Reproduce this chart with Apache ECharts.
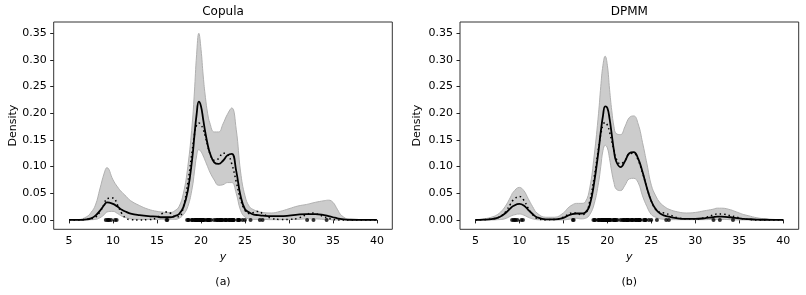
<!DOCTYPE html>
<html>
<head>
<meta charset="utf-8">
<script src="https://cdn.jsdelivr.net/npm/echarts@6/dist/echarts.min.js"></script>
<style>html,body{margin:0;padding:0;background:#fff}#c{width:806px;height:295px}</style>
</head>
<body>
<div id="c"></div>
<script>
const X = [5, 6, 7, 7.5, 8, 8.5, 9, 9.3, 10, 10.5, 11, 11.5, 12, 13, 14, 15, 15.5, 16, 16.5, 17,
  17.5, 18, 18.5, 19, 19.25, 19.5, 19.75, 20, 20.25, 20.5, 20.75, 21, 21.5, 22, 22.5, 23, 23.5, 24, 24.5, 25,
  25.5, 26, 26.5, 27, 28, 29, 30, 31, 32, 32.5, 33, 34, 34.5, 35, 35.5, 36, 37, 38, 40];

const copulaMean = [0, 0, 0.001, 0.003, 0.008, 0.017, 0.028, 0.033, 0.030, 0.025,
  0.019, 0.015, 0.012, 0.009, 0.007, 0.006, 0.005, 0.005, 0.005, 0.007,
  0.011, 0.024, 0.055, 0.115, 0.158, 0.198, 0.222, 0.213, 0.188, 0.163,
  0.142, 0.126, 0.108, 0.105, 0.111, 0.121, 0.124, 0.092, 0.045, 0.02,
  0.014, 0.01, 0.009, 0.008, 0.007, 0.007, 0.008, 0.01, 0.011, 0.011,
  0.011, 0.009, 0.007, 0.005, 0.003, 0.0015, 0.0003, 0, 0];
const copulaTrue = [0, 0, 0.001, 0.002, 0.005, 0.015, 0.03, 0.04, 0.041, 0.028,
  0.012, 0.003, 0.0005, 0, 0.0005, 0.004, 0.011, 0.015, 0.013, 0.006,
  0.006, 0.025, 0.07, 0.13, 0.16, 0.178, 0.182, 0.178, 0.17, 0.155,
  0.14, 0.125, 0.112, 0.115, 0.125, 0.123, 0.105, 0.072, 0.038, 0.018,
  0.012, 0.014, 0.016, 0.012, 0.003, 0.001, 0.001, 0.003, 0.01, 0.013,
  0.012, 0.006, 0.003, 0.001, 0, 0, 0, 0, 0];
const copulaUpper = [0, 0.0005, 0.006, 0.014, 0.028, 0.058, 0.088, 0.098, 0.075, 0.062,
  0.052, 0.044, 0.036, 0.027, 0.02, 0.016, 0.015, 0.014, 0.014, 0.017,
  0.025, 0.05, 0.1, 0.18, 0.24, 0.31, 0.35, 0.32, 0.27, 0.23,
  0.2, 0.182, 0.165, 0.165, 0.18, 0.198, 0.21, 0.17, 0.09, 0.045,
  0.025, 0.019, 0.016, 0.014, 0.013, 0.016, 0.021, 0.026, 0.029, 0.031,
  0.033, 0.036, 0.037, 0.033, 0.02, 0.008, 0.0005, 0, 0];
const copulaLower = [0, 0, 0, 0.0005, 0.001, 0.004, 0.01, 0.015, 0.016, 0.012,
  0.007, 0.004, 0.002, 0.001, 0.001, 0.001, 0.001, 0.001, 0.001, 0.001,
  0.003, 0.01, 0.025, 0.06, 0.09, 0.12, 0.132, 0.128, 0.12, 0.11,
  0.1, 0.09, 0.075, 0.065, 0.066, 0.07, 0.07, 0.05, 0.018, 0.005,
  0.002, 0.001, 0.001, 0.001, 0.0005, 0.0005, 0.001, 0.001, 0.002, 0.002,
  0.002, 0.001, 0.001, 0, 0, 0, 0, 0, 0];

const dpmmMean = [0, 0.0005, 0.002, 0.004, 0.008, 0.014, 0.022, 0.026, 0.030, 0.027,
  0.019, 0.011, 0.005, 0.001, 0.001, 0.004, 0.008, 0.011, 0.012, 0.012,
  0.014, 0.028, 0.07, 0.13, 0.165, 0.195, 0.213, 0.21, 0.19, 0.16,
  0.13, 0.11, 0.099, 0.11, 0.125, 0.127, 0.115, 0.09, 0.06, 0.035,
  0.02, 0.012, 0.008, 0.006, 0.003, 0.002, 0.002, 0.003, 0.005, 0.006,
  0.006, 0.005, 0.004, 0.003, 0.002, 0.0015, 0.0007, 0.0003, 0];
const dpmmTrue = [0, 0.0005, 0.002, 0.004, 0.008, 0.017, 0.03, 0.037, 0.044, 0.037,
  0.022, 0.01, 0.003, 0.0005, 0.001, 0.005, 0.01, 0.013, 0.013, 0.01,
  0.012, 0.035, 0.08, 0.135, 0.16, 0.178, 0.183, 0.178, 0.165, 0.148,
  0.13, 0.115, 0.105, 0.112, 0.124, 0.125, 0.112, 0.088, 0.06, 0.035,
  0.02, 0.014, 0.013, 0.01, 0.004, 0.002, 0.002, 0.004, 0.009, 0.011,
  0.011, 0.008, 0.006, 0.004, 0.002, 0.001, 0, 0, 0];
const dpmmUpper = [0.0005, 0.002, 0.006, 0.01, 0.017, 0.028, 0.043, 0.052, 0.061, 0.055,
  0.04, 0.025, 0.013, 0.005, 0.005, 0.013, 0.022, 0.028, 0.031, 0.031,
  0.034, 0.06, 0.12, 0.2, 0.25, 0.29, 0.307, 0.29, 0.245, 0.205,
  0.175, 0.162, 0.16, 0.175, 0.192, 0.195, 0.18, 0.145, 0.105, 0.065,
  0.045, 0.032, 0.025, 0.02, 0.015, 0.013, 0.014, 0.017, 0.02, 0.022,
  0.022, 0.019, 0.016, 0.013, 0.01, 0.008, 0.004, 0.002, 0];
const dpmmLower = [0, 0, 0, 0.0005, 0.001, 0.003, 0.007, 0.009, 0.011, 0.009,
  0.005, 0.002, 0.0005, 0, 0, 0, 0.001, 0.002, 0.003, 0.002,
  0.003, 0.01, 0.03, 0.07, 0.1, 0.13, 0.14, 0.135, 0.115, 0.09,
  0.07, 0.058, 0.055, 0.065, 0.077, 0.078, 0.07, 0.045, 0.025, 0.01,
  0.005, 0.002, 0.001, 0.0005, 0.0005, 0.0005, 0.0005, 0.0005, 0.001, 0.001,
  0.001, 0.0005, 0, 0, 0, 0, 0, 0, 0];

const observations = [9.172, 9.350, 9.483, 9.558, 9.775, 10.227, 10.406, 16.084, 16.170, 18.419,
  18.552, 18.600, 18.927, 19.052, 19.070, 19.330, 19.343, 19.349, 19.440, 19.473,
  19.529, 19.541, 19.547, 19.663, 19.846, 19.856, 19.863, 19.914, 19.918, 19.973,
  19.989, 20.166, 20.175, 20.179, 20.196, 20.215, 20.221, 20.415, 20.629, 20.795,
  20.821, 20.846, 20.875, 20.986, 21.137, 21.492, 21.701, 21.814, 21.921, 21.960,
  22.185, 22.209, 22.242, 22.249, 22.314, 22.374, 22.495, 22.746, 22.747, 22.888,
  22.914, 23.206, 23.241, 23.263, 23.484, 23.538, 23.542, 23.666, 23.706, 23.711,
  24.129, 24.285, 24.289, 24.366, 24.717, 24.990, 25.633, 26.690, 26.995, 32.065,
  32.789, 34.279];

const xTicks = [5, 10, 15, 20, 25, 30, 35, 40];
const yTicks = [0, 0.05, 0.10, 0.15, 0.20, 0.25, 0.30, 0.35];
const panelTitles = ['Copula', 'DPMM'];
const panelLetters = ['(a)', '(b)'];

const FONT = 'DejaVu Sans';
const grids = [
  {left: 53.7, top: 22, width: 338.6, height: 207.3},
  {left: 460, top: 22, width: 338.7, height: 207.3}
];

function pairs(ys) { return X.map((x, k) => [x, ys[k]]); }

function panelSeries(i, mean, truth, lower, upper) {
  const common = {xAxisIndex: i, yAxisIndex: i, symbol: 'none', smooth: 0.45, silent: true};
  return [
    // credible band: grey fill under the upper curve, then white fill under the lower curve
    Object.assign({}, common, {type: 'line', data: pairs(upper),
      lineStyle: {color: '#b0b0b0', width: 1}, areaStyle: {color: '#cccccc', opacity: 1}, z: 1}),
    Object.assign({}, common, {type: 'line', data: pairs(lower),
      lineStyle: {color: '#b0b0b0', width: 1}, areaStyle: {color: '#ffffff', opacity: 1}, z: 1}),
    Object.assign({}, common, {type: 'line', data: pairs(truth),
      lineStyle: {color: '#000', width: 1.5, type: [1.5, 3]}, z: 2}),
    Object.assign({}, common, {type: 'line', data: pairs(mean),
      lineStyle: {color: '#000', width: 1.8}, z: 3}),
    {type: 'scatter', xAxisIndex: i, yAxisIndex: i, silent: true, symbol: 'circle', symbolSize: 4,
      itemStyle: {color: '#000'}, data: observations.map(v => [v, 0]), z: 4}
  ];
}

const xAxes = grids.map((g, i) => ({
  type: 'value', gridIndex: i, min: 3.25, max: 41.75,
  axisLine: {show: false}, splitLine: {show: false},
  axisTick: {show: true, length: 3.5, lineStyle: {color: '#222', width: 1}, customValues: xTicks},
  axisLabel: {customValues: xTicks, margin: 6, fontFamily: FONT, fontSize: 11, color: '#000'},
  name: 'y', nameLocation: 'middle', nameGap: 19,
  nameTextStyle: {fontFamily: FONT, fontSize: 11, fontStyle: 'italic', color: '#000'}
}));
const yAxes = grids.map((g, i) => ({
  type: 'value', gridIndex: i, min: -0.0176, max: 0.3712,
  axisLine: {show: false}, splitLine: {show: false},
  axisTick: {show: true, length: 3.5, lineStyle: {color: '#222', width: 1}, customValues: yTicks},
  axisLabel: {customValues: yTicks, margin: 7, fontFamily: FONT, fontSize: 11, color: '#000',
    formatter: v => v.toFixed(2)},
  name: 'Density', nameLocation: 'middle', nameGap: i === 0 ? 35 : 37,
  nameTextStyle: {fontFamily: FONT, fontSize: 11, color: '#000'}
}));

const centers = grids.map(g => g.left + g.width / 2);
const graphics = [];
panelTitles.forEach((t, i) => graphics.push({type: 'text', x: centers[i], y: 12,
  style: {text: t, align: 'center', verticalAlign: 'middle', fontFamily: FONT, fontSize: 12, fill: '#000'}}));
panelLetters.forEach((t, i) => graphics.push({type: 'text', x: centers[i], y: 282,
  style: {text: t, align: 'center', verticalAlign: 'middle', fontFamily: FONT, fontSize: 11, fill: '#000'}}));

const chart = echarts.init(document.getElementById('c'), null, {renderer: 'canvas'});
chart.setOption({
  animation: false,
  backgroundColor: '#fff',
  grid: grids.map(g => Object.assign({show: true, borderColor: '#333', borderWidth: 1, backgroundColor: 'transparent'}, g)),
  xAxis: xAxes,
  yAxis: yAxes,
  graphic: graphics,
  series: [].concat(
    panelSeries(0, copulaMean, copulaTrue, copulaLower, copulaUpper),
    panelSeries(1, dpmmMean, dpmmTrue, dpmmLower, dpmmUpper)
  )
});
</script>
</body>
</html>
